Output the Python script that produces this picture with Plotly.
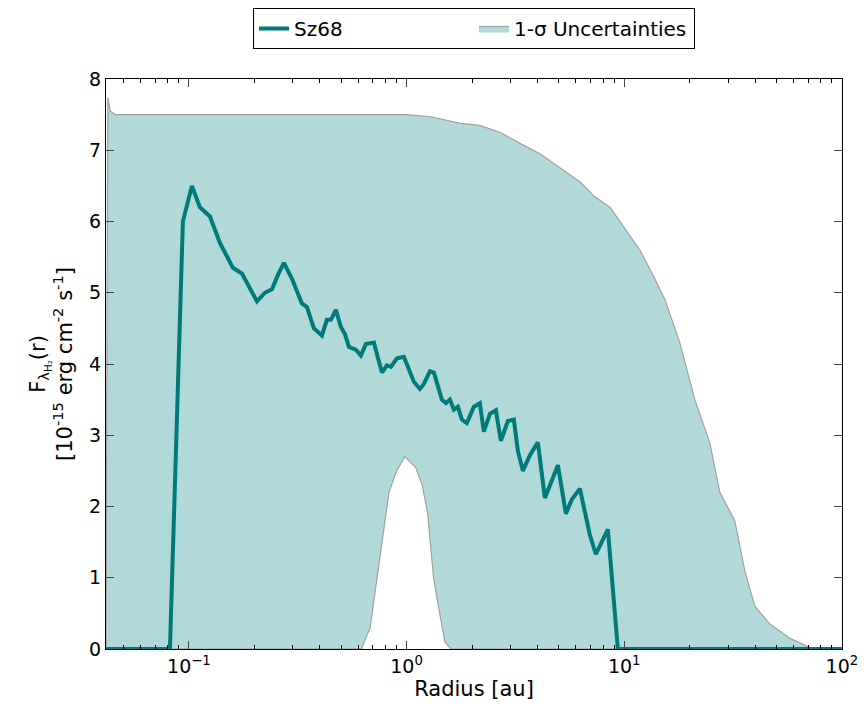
import plotly.graph_objects as go

# Sz68 profile
radius = [0.0416, 0.0818, 0.0938, 0.1032, 0.1123, 0.1249, 0.1388, 0.1593, 0.1752, 0.1886,
          0.2053, 0.2234, 0.2406, 0.2564, 0.2731, 0.2972, 0.3304, 0.3484, 0.3752, 0.4083,
          0.4305, 0.4491, 0.4735, 0.4993, 0.5208, 0.5433, 0.5850, 0.6168, 0.6502, 0.7077,
          0.7702, 0.8120, 0.8472, 0.9027, 0.9719, 1.080, 1.151, 1.201, 1.280, 1.335,
          1.453, 1.516, 1.581, 1.649, 1.721, 1.795, 1.892, 2.038, 2.171, 2.265,
          2.414, 2.572, 2.712, 2.920, 3.111, 3.246, 3.422, 3.686, 4.011, 4.319,
          4.554, 4.957, 5.395, 5.745, 6.256, 6.952, 7.407, 8.410, 9.348, 100]
flux = [0, 0, 6.0, 6.5, 6.2, 6.07, 5.7, 5.35, 5.27, 5.1,
        4.88, 5.0, 5.05, 5.25, 5.42, 5.2, 4.85, 4.8, 4.5, 4.4,
        4.62, 4.62, 4.76, 4.52, 4.42, 4.24, 4.2, 4.12, 4.28, 4.3,
        3.88, 3.98, 3.96, 4.08, 4.1, 3.75, 3.65, 3.72, 3.9, 3.88,
        3.5, 3.45, 3.5, 3.36, 3.4, 3.22, 3.17, 3.4, 3.45, 3.05,
        3.3, 3.35, 2.92, 3.2, 3.22, 2.78, 2.5, 2.72, 2.9, 2.12,
        2.3, 2.58, 1.9, 2.1, 2.25, 1.6, 1.33, 1.68, 0, 0]

# 1-sigma band edges
up_r = [0.0416, 0.0424, 0.0435, 0.046, 1.0, 1.29, 1.75, 2.17, 2.7, 3.3, 4.1, 5.1, 6.3, 7.3,
        8.6, 10.07, 11.8, 13.8, 15.4, 18.0, 21.1, 24.7, 27.5, 32.2, 35.8, 39.8, 46.7,
        57.7, 71.3, 100]
up_f = [0, 7.74, 7.55, 7.5, 7.5, 7.47, 7.38, 7.35, 7.25, 7.1, 6.95, 6.75, 6.55, 6.35,
        6.2, 5.9, 5.6, 5.2, 4.9, 4.3, 3.5, 2.9, 2.2, 1.8, 1.1, 0.6, 0.35,
        0.15, 0.02, 0]
lo_r = [0.0416, 0.62, 0.68, 0.75, 0.83, 0.9, 0.98, 1.1, 1.18, 1.25, 1.33, 1.4, 1.5, 1.6, 100]
lo_f = [0, 0, 0.3, 1.2, 2.2, 2.5, 2.7, 2.55, 2.3, 1.9, 1.0, 0.6, 0.1, 0, 0]

teal = "#007b7b"
fig = go.Figure()
fig.add_trace(go.Scatter(x=up_r, y=up_f, mode="lines", line=dict(color="#a0a0a0", width=1.2),
                         showlegend=False))
fig.add_trace(go.Scatter(x=lo_r, y=lo_f, mode="lines", line=dict(color="#a0a0a0", width=1.2),
                         fill="tonexty", fillcolor="rgba(0,128,128,0.3)",
                         name="1-σ Uncertainties"))
fig.add_trace(go.Scatter(x=radius, y=flux, mode="lines", line=dict(color=teal, width=4),
                         name="Sz68"))

fig.update_layout(
    width=858, height=700, plot_bgcolor="white", paper_bgcolor="white",
    margin=dict(l=98, r=24, t=71, b=59, autoexpand=False),
    font=dict(family="DejaVu Sans", size=19, color="black"),
    legend=dict(orientation="h", x=0.5, xanchor="center", yref="container", y=1.0,
                yanchor="top", bordercolor="black", borderwidth=1, traceorder="reversed",
                entrywidth=175, font=dict(size=20)),
    xaxis=dict(type="log", range=[-1.381, 2.0005], showgrid=False, showline=True, mirror="ticks",
               linecolor="black", ticks="inside", ticklen=8,
               tickvals=[0.1, 1, 10, 100],
               ticktext=["10<sup>−1</sup>", "10<sup>0</sup>", "10<sup>1</sup>", "10<sup>2</sup>"],
               minor=dict(ticks="inside", ticklen=4, dtick="D1", tickcolor="black",
                          showgrid=False),
               title=dict(text="Radius [au]", standoff=4, font=dict(size=21))),
    yaxis=dict(range=[0, 8], dtick=1, showgrid=False, showline=True, mirror="ticks",
               linecolor="black", ticks="inside", ticklen=8, zeroline=False,
               title=dict(text="F<sub>λ<sub>H₂</sub></sub>(r)<br>[10<sup>-15</sup> erg cm<sup>-2</sup> s<sup>-1</sup>]",
                          standoff=10, font=dict(size=21))),
)
fig.write_html("out.html")
